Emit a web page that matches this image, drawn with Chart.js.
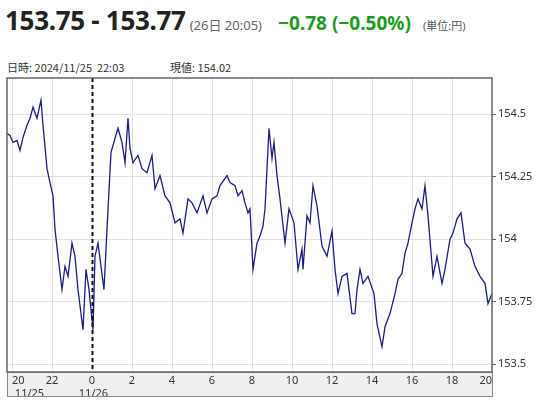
<!DOCTYPE html>
<html>
<head>
<meta charset="utf-8">
<script src="https://cdn.jsdelivr.net/npm/chart.js@4"></script>
<style>
  body { margin: 0; width: 540px; height: 400px; background: #fff; font-family: "Noto Sans", "Noto Sans CJK JP", sans-serif; position: relative; overflow: hidden; }
  .hd { position: absolute; top: 2px; left: 5px; white-space: nowrap; }
  .price { font-size: 26px; font-weight: bold; color: #222; letter-spacing: -0.3px; }
  .time { font-size: 13px; color: #666; margin-left: 4px; }
  .chg { font-size: 19px; font-weight: bold; color: #1f9a1f; margin-left: 16px; }
  .unit { font-size: 11px; color: #555; margin-left: 12px; }
  .info { position: absolute; top: 59px; font-size: 11px; color: #333; font-family: "Noto Sans CJK JP", sans-serif; }
  #wrap { position: absolute; left: 0; top: 60px; width: 540px; height: 340px; }
</style>
</head>
<body>
<div class="hd"><span class="price">153.75 - 153.77</span><span class="time">(26日 20:05)</span><span class="chg">−0.78 (−0.50%)</span><span class="unit">(単位:円)</span></div>
<div class="info" style="left:7px">日時: 2024/11/25&nbsp; 22:03</div>
<div class="info" style="left:170px">現値: 154.02</div>
<div id="wrap"><canvas id="c"></canvas></div>
<script>
// hours relative to 11/26 00:00
const HOURS = [-4.25,-4.1,-3.95,-3.75,-3.6,-3.45,-3.25,-3.1,-2.95,-2.75,-2.55,-2.45,-2.25,-2.1,-1.95,-1.85,-1.7,-1.5,-1.35,-1.2,-1.0,-0.85,-0.7,-0.45,-0.3,-0.15,0.05,0.15,0.3,0.6,0.75,0.95,1.15,1.3,1.5,1.65,1.8,1.9,2.05,2.3,2.5,2.75,3.0,3.15,3.4,3.65,3.9,4.15,4.4,4.55,4.8,5.0,5.25,5.55,5.75,6.0,6.25,6.4,6.75,6.9,7.15,7.3,7.5,7.65,7.8,7.9,8.05,8.25,8.4,8.55,8.65,8.75,8.85,9.0,9.1,9.25,9.4,9.65,9.85,10.1,10.3,10.5,10.55,10.75,10.9,11.05,11.25,11.5,11.75,12.0,12.15,12.3,12.5,12.75,13.0,13.15,13.25,13.4,13.55,13.8,14.1,14.25,14.5,14.65,14.9,15.15,15.3,15.5,15.65,15.8,16.0,16.15,16.3,16.5,16.65,16.8,17.05,17.25,17.5,17.65,17.9,18.05,18.25,18.45,18.65,18.9,19.15,19.4,19.65,19.8,20.0];
const PRICES = [154.423,154.415,154.387,154.395,154.355,154.407,154.456,154.484,154.528,154.484,154.556,154.456,154.282,154.226,154.173,154.040,153.931,153.798,153.891,153.851,153.984,153.931,153.798,153.637,153.879,153.798,153.637,153.931,153.984,153.798,154.040,154.347,154.403,154.444,154.387,154.306,154.484,154.363,154.306,154.335,154.282,154.266,154.335,154.202,154.254,154.173,154.145,154.065,154.081,154.024,154.161,154.145,154.105,154.173,154.105,154.161,154.173,154.214,154.254,154.226,154.214,154.173,154.194,154.145,154.105,154.121,153.879,153.984,154.012,154.052,154.121,154.282,154.444,154.323,154.387,154.254,154.161,153.984,154.121,154.065,153.879,153.960,153.879,154.093,154.065,154.214,154.133,153.972,153.931,154.032,153.879,153.782,153.851,153.863,153.702,153.702,153.798,153.879,153.823,153.851,153.782,153.661,153.569,153.649,153.702,153.782,153.839,153.863,153.944,153.984,154.065,154.121,154.161,154.121,154.214,154.093,153.851,153.931,153.823,153.879,154.000,154.024,154.081,154.105,153.984,153.960,153.891,153.851,153.823,153.742,153.782];
const X_TICKS = [-4,-2,0,2,4,6,8,10,12,14,16,18,20];
const Y_TICKS = [153.5,153.75,154,154.25,154.5];
const DATE_LABELS = { '-4': '11/25', '0': '11/26' };

const frame = {
  id: 'frame',
  beforeDraw(chart) {
    const { ctx, chartArea: a } = chart;
    ctx.save();
    ctx.fillStyle = '#efefef';
    ctx.fillRect(a.left, a.bottom, a.right - a.left, 24);
    ctx.strokeStyle = '#888';
    ctx.lineWidth = 1;
    ctx.strokeRect(a.left + 0.5, a.bottom + 0.5, a.right - a.left, 24);
    ctx.restore();
  },
  afterDatasetsDraw(chart) {
    const { ctx, chartArea: a, scales } = chart;
    const x0 = Math.round(scales.x.getPixelForValue(0)) + 0.5;
    ctx.save();
    ctx.strokeStyle = '#111';
    ctx.lineWidth = 2;
    ctx.setLineDash([4, 3]);
    ctx.beginPath(); ctx.moveTo(x0, a.top); ctx.lineTo(x0, a.bottom); ctx.stroke();
    ctx.setLineDash([]);
    ctx.lineWidth = 1.5;
    ctx.strokeStyle = '#666';
    ctx.strokeRect(a.left, a.top, a.right - a.left, a.bottom - a.top);
    ctx.restore();
  }
};

new Chart(document.getElementById('c'), {
  type: 'line',
  data: {
    datasets: [{
      data: HOURS.map((h, i) => ({ x: h, y: PRICES[i] })),
      borderColor: '#1c1c86',
      borderWidth: 1.3,
      pointRadius: 0,
      tension: 0,
      fill: false
    }]
  },
  options: {
    responsive: true,
    maintainAspectRatio: false,
    animation: false,
    layout: { padding: { left: 7, top: 18, right: 0, bottom: 4 } },
    plugins: { legend: { display: false }, tooltip: { enabled: false } },
    scales: {
      x: {
        type: 'linear', min: -4.25, max: 20,
        afterBuildTicks: s => { s.ticks = X_TICKS.map(v => ({ value: v })); },
        afterFit: s => { s.height = 24; s.paddingLeft = 0; s.paddingRight = 0; },
        grid: { color: '#e2e2e2', drawTicks: false },
        border: { display: false },
        ticks: {
          color: '#333', font: { size: 11, family: 'Noto Sans' }, padding: 2, maxRotation: 0, align: 'inner',
          callback: v => {
            const lab = String((v + 24) % 24);
            return DATE_LABELS[String(v)] ? [lab, ' ' + DATE_LABELS[String(v)]] : lab;
          }
        }
      },
      y: {
        position: 'right', min: 153.468, max: 154.645,
        afterBuildTicks: s => { s.ticks = Y_TICKS.map(v => ({ value: v })); },
        afterFit: s => { s.width = 48; },
        grid: { color: '#e2e2e2', drawTicks: true, tickLength: 4, tickColor: '#666' },
        border: { display: false },
        ticks: { color: '#333', font: { size: 11, family: 'Noto Sans' }, padding: 2, callback: v => String(v) }
      }
    }
  },
  plugins: [frame]
});
</script>
</body>
</html>
